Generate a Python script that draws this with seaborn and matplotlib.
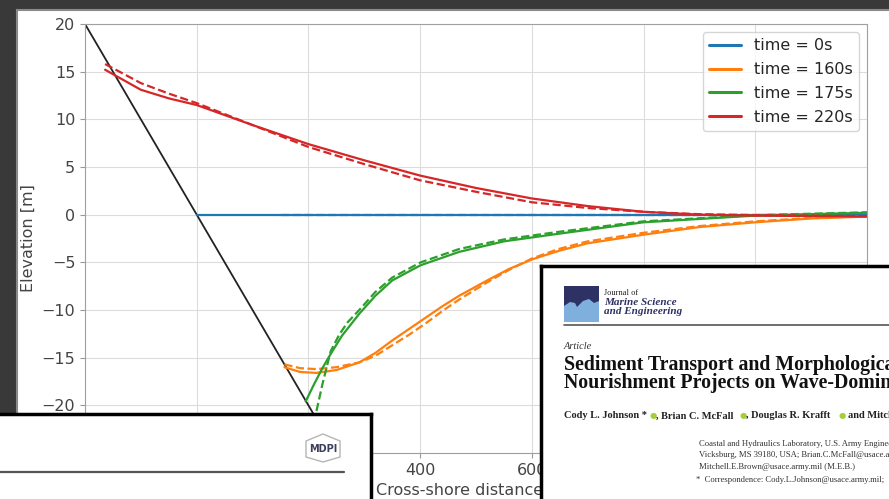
import matplotlib
matplotlib.use("Agg")
import matplotlib.pyplot as plt
import seaborn as sns
from matplotlib.patches import Rectangle, Polygon

# initial bed profile (black)
bed_x = [-200, 260]
bed_z = [20, -26]

# time = 0s
t0_x = [0, 1200]
t0_z = [0, 0]
t0_dash_x = [150, 1200]
t0_dash_z = [0, 0]

# time = 160s
t160_x = [157, 185, 214, 250, 291, 320, 350, 380, 410, 440, 470, 520, 559, 600, 648, 700, 800, 900, 1000, 1100, 1200]
t160_z = [-16.0, -16.5, -16.6, -16.3, -15.5, -14.5, -13.2, -12.0, -10.8, -9.6, -8.5, -6.9, -5.7, -4.7, -3.8, -3.0, -2.1, -1.3, -0.8, -0.4, -0.2]
t160_dash_z = [-15.7, -16.1, -16.2, -16.0, -15.5, -14.8, -13.7, -12.6, -11.4, -10.1, -8.9, -7.1, -5.8, -4.6, -3.6, -2.8, -1.9, -1.2, -0.7, -0.35, -0.15]

# time = 175s
t175_x = [195, 210, 225, 240, 260, 291, 320, 350, 401, 470, 550, 648, 800, 1000, 1200]
t175_z = [-19.6, -17.8, -16.1, -14.6, -12.7, -10.4, -8.5, -6.9, -5.3, -3.9, -2.8, -2.0, -0.8, -0.1, 0.2]
t175_dash_x = [205, 214, 225, 240, 255, 270, 291, 320, 350, 401, 470, 550, 648, 800, 1000, 1200]
t175_dash_z = [-23.0, -20.7, -17.8, -14.3, -12.6, -11.3, -10.0, -8.1, -6.6, -5.0, -3.6, -2.6, -1.8, -0.7, -0.05, 0.25]

# time = 220s
t220_x = [-164, -100, -50, 0, 100, 200, 300, 400, 500, 600, 700, 800, 900, 1000, 1100, 1200]
t220_z = [15.2, 13.1, 12.2, 11.5, 9.4, 7.4, 5.7, 4.1, 2.8, 1.7, 0.9, 0.3, 0.0, -0.1, -0.15, -0.2]
t220_dash_z = [15.8, 13.8, 12.7, 11.7, 9.4, 7.1, 5.3, 3.6, 2.4, 1.3, 0.7, 0.3, 0.05, -0.05, -0.1, -0.15]

labels = ["time = 0s", "time = 160s", "time = 175s", "time = 220s"]
colors = ["#1f77b4", "#ff7f0e", "#2ca02c", "#d62728"]

W, H = 889, 499
sns.set_style("whitegrid", {"xtick.bottom": True, "ytick.left": True,
                            "axes.edgecolor": "#a0a0a0", "grid.color": "#dcdcdc"})
plt.rcParams["font.family"] = ["DejaVu Sans"]

fig = plt.figure(figsize=(W / 100, H / 100), dpi=100, facecolor="#393939")


def px_axes(x0, y0, x1, y1):
    # axes placed in image pixel coordinates (y downwards)
    return fig.add_axes([x0 / W, 1 - y1 / H, (x1 - x0) / W, (y1 - y0) / H])


# white page behind the chart
page = px_axes(17, 10, W + 5, H + 5)
page.set_facecolor("white")
page.set_xticks([])
page.set_yticks([])
page.grid(False)
for s in page.spines.values():
    s.set_color("#8a8a8a")
    s.set_linewidth(1.5)

ax = px_axes(85, 24, 867, 453)
ax.set_facecolor("white")
sns.lineplot(x=bed_x, y=bed_z, color="#222222", lw=1.3, ax=ax, sort=False, estimator=None)
sns.lineplot(x=t0_x, y=t0_z, color=colors[0], lw=1.6, ax=ax, sort=False, estimator=None, label=labels[0])
sns.lineplot(x=t0_dash_x, y=t0_dash_z, color=colors[0], lw=1.6, ls="--", ax=ax, sort=False, estimator=None)
sns.lineplot(x=t160_x, y=t160_z, color=colors[1], lw=1.6, ax=ax, sort=False, estimator=None, label=labels[1])
sns.lineplot(x=t160_x, y=t160_dash_z, color=colors[1], lw=1.6, ls="--", ax=ax, sort=False, estimator=None)
sns.lineplot(x=t175_x, y=t175_z, color=colors[2], lw=1.6, ax=ax, sort=False, estimator=None, label=labels[2])
sns.lineplot(x=t175_dash_x, y=t175_dash_z, color=colors[2], lw=1.6, ls="--", ax=ax, sort=False, estimator=None)
sns.lineplot(x=t220_x, y=t220_z, color=colors[3], lw=1.6, ax=ax, sort=False, estimator=None, label=labels[3])
sns.lineplot(x=t220_x, y=t220_dash_z, color=colors[3], lw=1.6, ls="--", ax=ax, sort=False, estimator=None)

ax.set_xlim(-200, 1200)
ax.set_ylim(-25, 20)
ax.set_xticks(range(-200, 1201, 200))
ax.set_yticks(range(-25, 21, 5))
ax.tick_params(labelsize=11.5, labelcolor="#444444", length=3.5, width=0.8, color="#999999")
ax.set_xlabel("Cross-shore distance [m]", fontsize=11.5, color="#444444")
ax.set_ylabel("Elevation [m]", fontsize=11.5, color="#444444")
leg = ax.legend(loc="upper right", fontsize=11.5, labelspacing=0.55, frameon=True)
for line in leg.get_lines():
    line.set_linewidth(2.2)

# ---- overlaid paper snippets ----
# bottom-left box (MDPI header)
bl = px_axes(-5, 414, 371, H + 5)
bl.set_xlim(-5, 371)
bl.set_ylim(H + 5, 414)
bl.set_facecolor("white")
bl.set_xticks([])
bl.set_yticks([])
bl.grid(False)
for s in bl.spines.values():
    s.set_color("black")
    s.set_linewidth(2.5)
bl.plot([-5, 344], [472, 472], color="#555555", lw=1.6)
bl.add_patch(Polygon([[306, 441], [323, 434], [340, 441], [340, 457], [323, 462], [306, 457]],
                     closed=True, fill=False, edgecolor="#b5b5b5", lw=1.0))
bl.text(323, 449, "MDPI", fontsize=7, fontweight="bold", color="#3b3f5c", ha="center", va="center")

# bottom-right box (article front page)
br = px_axes(541, 266, W + 5, H + 5)
br.set_xlim(541, W + 5)
br.set_ylim(H + 5, 266)
br.set_facecolor("white")
br.set_xticks([])
br.set_yticks([])
br.grid(False)
for s in br.spines.values():
    s.set_color("black")
    s.set_linewidth(2.5)

serif = ["Liberation Serif", "DejaVu Serif"]
navy = "#2e3163"
br.add_patch(Rectangle((564, 286), 35, 36, color=navy, lw=0))
br.add_patch(Polygon([[564, 322], [564, 306], [570, 302], [575, 303], [577, 307], [583, 301],
                      [589, 299], [594, 303], [599, 301], [599, 322]], closed=True, color="#7fb0dd", lw=0))
br.text(604, 293, "Journal of", family=serif, fontsize=6, color="#222222", va="center")
br.text(604, 303, "Marine Science", family=serif, fontsize=8, style="italic", fontweight="bold",
        color=navy, va="center")
br.text(604, 312, "and Engineering", family=serif, fontsize=8, style="italic", fontweight="bold",
        color=navy, va="center")
br.plot([564, W + 5], [325, 325], color="#555555", lw=1.2)
br.text(564, 347, "Article", family=serif, fontsize=7.5, style="italic", color="#333333", va="center")
br.text(564, 365, "Sediment Transport and Morphological Response to Nearshore", family=serif,
        fontsize=14.3, fontweight="bold", color="#111111", va="center")
br.text(564, 383, "Nourishment Projects on Wave-Dominated Coasts", family=serif,
        fontsize=14.3, fontweight="bold", color="#111111", va="center")
orcid = "#a6ce39"
br.text(564, 416, "Cody L. Johnson *", family=serif, fontsize=7.5, fontweight="bold", color="#222222", va="center")
br.text(653, 416, "\u25cf", fontsize=6, color=orcid, ha="center", va="center")
br.text(656, 416, ", Brian C. McFall", family=serif, fontsize=7.5, fontweight="bold", color="#222222", va="center")
br.text(743, 416, "\u25cf", fontsize=6, color=orcid, ha="center", va="center")
br.text(746, 416, ", Douglas R. Krafft", family=serif, fontsize=7.5, fontweight="bold", color="#222222", va="center")
br.text(842, 416, "\u25cf", fontsize=6, color=orcid, ha="center", va="center")
br.text(848, 416, "and Mitchell E. Brown", family=serif, fontsize=7.5, fontweight="bold", color="#222222", va="center")
affil = ["Coastal and Hydraulics Laboratory, U.S. Army Engineer Research and Development Center,",
         "Vicksburg, MS 39180, USA; Brian.C.McFall@usace.army.mil (B.C.M.);",
         "Mitchell.E.Brown@usace.army.mil (M.E.B.)"]
for i, line in enumerate(affil):
    br.text(699, 444 + 11.5 * i, line, family=serif, fontsize=6.2, color="#333333", va="center")
br.text(696, 480.5, "*  Correspondence: Cody.L.Johnson@usace.army.mil;", family=serif, fontsize=6.2,
        color="#333333", va="center")

fig.savefig("out.png", dpi=100, facecolor=fig.get_facecolor())
